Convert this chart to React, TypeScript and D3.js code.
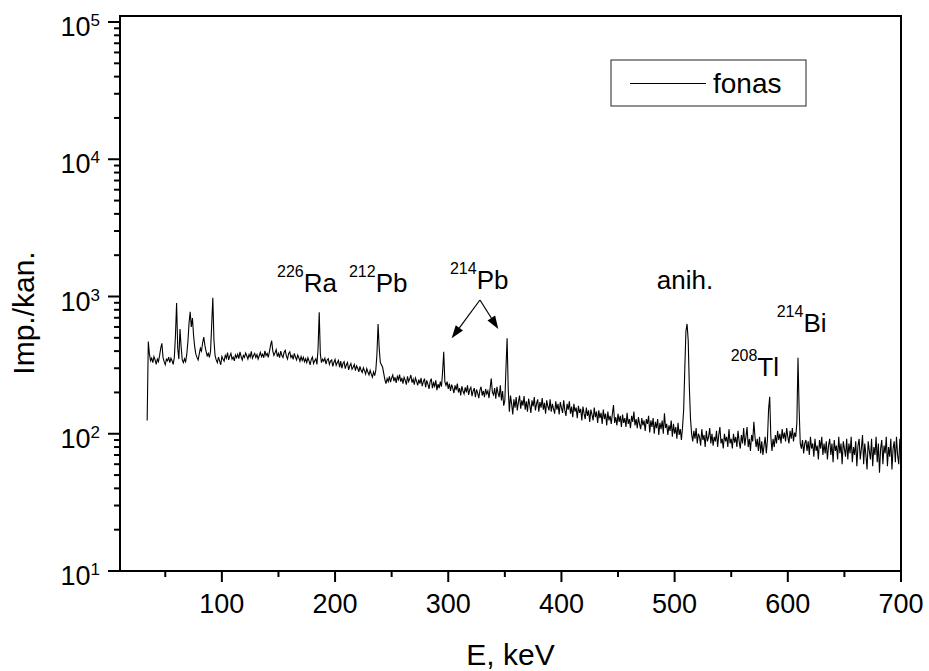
import React from 'react';
import * as d3 from 'd3';

// Spectrum: counts per channel, one value per keV starting at 34 keV
const E_START = 34;
const E_STEP = 1;
const counts: number[] = [
  // 34-53
  125, 470, 380, 340, 355, 330, 365, 345, 320, 350, 335, 372, 420, 456, 360, 335, 318, 350, 340, 362,
  // 54-73
  330, 355, 340, 320, 360, 520, 897, 420, 350, 580, 430, 345, 330, 352, 335, 380, 470, 640, 774, 600,
  // 74-93
  697, 520, 430, 380, 360, 345, 380, 420, 400, 460, 507, 440, 400, 370, 385, 360, 400, 620, 979, 480,
  // 94-113
  370, 345, 330, 362, 340, 318, 365, 350, 338, 372, 355, 390, 345, 368, 385, 350, 362, 340, 375, 358,
  // 114-133
  380, 352, 395, 365, 345, 372, 360, 388, 370, 350, 378, 362, 398, 355, 372, 385, 360, 378, 350, 370,
  // 134-153
  392, 365, 380, 358, 402, 372, 385, 360, 395, 440, 476, 400, 372, 390, 410, 365, 385, 358, 400, 372,
  // 154-173
  360, 392, 405, 368, 350, 385, 395, 360, 372, 348, 385, 362, 345, 375, 358, 338, 365, 342, 360, 335,
  // 174-193
  352, 330, 358, 340, 318, 348, 362, 325, 340, 352, 320, 420, 767, 380, 330, 350, 338, 355, 322, 345,
  // 194-213
  352, 320, 338, 345, 310, 332, 348, 315, 330, 342, 305, 338, 300, 325, 335, 298, 318, 330, 292, 312,
  // 214-233
  325, 295, 305, 320, 288, 312, 300, 282, 310, 290, 280, 302, 288, 272, 298, 282, 268, 290, 272, 258,
  // 234-253
  282, 265, 290, 380, 631, 420, 330, 318, 305, 275, 248, 232, 252, 240, 262, 238, 255, 268, 242, 258,
  // 254-273
  235, 262, 248, 270, 240, 255, 232, 258, 245, 228, 262, 240, 252, 268, 236, 250, 228, 255, 242, 225,
  // 274-293
  248, 232, 255, 222, 240, 252, 218, 245, 230, 212, 240, 252, 215, 235, 222, 245, 208, 230, 215, 240,
  // 294-313
  220, 280, 396, 240, 225, 240, 212, 232, 205, 228, 215, 198, 225, 208, 232, 200, 215, 190, 222, 205,
  // 314-333
  195, 218, 200, 225, 192, 210, 218, 188, 205, 215, 185, 210, 198, 182, 208, 220, 190, 205, 185, 212,
  // 334-353
  195, 205, 182, 215, 253, 200, 192, 215, 180, 220, 198, 185, 225, 175, 205, 160, 175, 300, 496, 210,
  // 354-373
  145, 190, 165, 138, 178, 155, 185, 148, 170, 190, 152, 175, 160, 188, 150, 172, 145, 180, 162, 142,
  // 374-393
  175, 158, 185, 148, 165, 178, 145, 170, 155, 182, 150, 168, 140, 175, 158, 148, 178, 145, 165, 152,
  // 394-413
  140, 172, 150, 165, 138, 170, 155, 142, 175, 148, 135, 165, 150, 172, 140, 158, 132, 165, 145, 155,
  // 414-433
  130, 160, 142, 152, 125, 158, 140, 128, 155, 135, 148, 122, 150, 138, 125, 155, 132, 145, 120, 148,
  // 434-453
  130, 142, 118, 150, 128, 140, 115, 145, 125, 135, 118, 140, 162, 120, 132, 115, 140, 122, 135, 112,
  // 454-473
  138, 120, 130, 112, 142, 118, 128, 110, 135, 122, 145, 115, 128, 110, 132, 118, 108, 130, 115, 125,
  // 474-493
  105, 128, 118, 135, 102, 125, 112, 130, 100, 122, 110, 128, 98, 120, 108, 125, 100, 141, 110, 118,
  // 494-513
  98, 115, 105, 125, 95, 118, 100, 112, 92, 120, 98, 108, 90, 112, 150, 300, 560, 631, 480, 220,
  // 514-533
  130, 100, 88, 105, 92, 110, 85, 100, 95, 82, 108, 90, 98, 80, 105, 88, 95, 110, 85, 100,
  // 534-553
  82, 95, 88, 105, 80, 98, 112, 85, 92, 78, 100, 88, 95, 80, 108, 85, 92, 78, 100, 86,
  // 554-573
  95, 80, 105, 88, 78, 98, 85, 110, 82, 95, 112, 80, 92, 75, 98, 88, 122, 95, 80, 92,
  // 574-593
  75, 95, 72, 88, 70, 82, 95, 72, 90, 150, 186, 95, 75, 92, 80, 98, 85, 105, 90, 100,
  // 594-613
  85, 108, 92, 102, 88, 110, 95, 85, 105, 92, 110, 88, 102, 95, 120, 358, 150, 85, 78, 90,
  // 614-633
  72, 85, 90, 75, 88, 70, 95, 78, 85, 68, 92, 75, 82, 65, 90, 78, 95, 70, 85, 72,
  // 634-653
  88, 65, 82, 92, 70, 85, 62, 90, 75, 82, 65, 95, 72, 85, 60, 88, 78, 68, 92, 65,
  // 654-673
  85, 72, 95, 62, 80, 70, 88, 58, 82, 92, 65, 78, 98, 60, 85, 70, 55, 88, 75, 65,
  // 674-693
  92, 58, 80, 70, 95, 62, 85, 52, 78, 90, 60, 82, 72, 95, 58, 80, 68, 92, 55, 78,
  // 694-700
  88, 62, 95, 70, 60, 92, 75,
];

const xMajorTicks = [100, 200, 300, 400, 500, 600, 700];
const xMinorTicks = [50, 150, 250, 350, 450, 550, 650];
const yExponents = [1, 2, 3, 4, 5];
const yMinorFactors = [2, 3, 4, 5, 6, 7, 8, 9];

const labelIsotopes = ['226', '212', '214', '', '214', '208'];
const labelNames = ['Ra', 'Pb', 'Pb', 'anih.', 'Bi', 'Tl'];
const labelEnergy = [148.7, 212.3, 301.5, 484.2, 590.2, 549.5];
const labelCounts = [1079, 1079, 1129, 1129, 554, 265];

const arrowFrom: [number, number][] = [[328, 943], [328, 943]];
const arrowTo: [number, number][] = [[303, 496], [344.2, 580]];

const legendLabel = 'fonas';
const xTitle = 'E, keV';
const yTitle = 'Imp./kan.';

const W = 929;
const H = 671;
const FONT = '"Liberation Sans", Arial, sans-serif';

export default function App() {
  const x = d3.scaleLinear().domain([10, 700]).range([120, 901]);
  const y = d3.scaleLog().domain([10, 1.106e5]).range([571, 16]);

  const data = counts.map((c, i) => [E_START + i * E_STEP, c] as [number, number]);
  const line = d3
    .line<[number, number]>()
    .x((d) => x(d[0]))
    .y((d) => y(d[1]));

  const [x0, x1] = x.range();
  const [yb, yt] = y.range();

  const yMinor: number[] = [];
  for (let k = 1; k < 5; k++) for (const f of yMinorFactors) yMinor.push(f * Math.pow(10, k));

  const arrowHead = (from: [number, number], to: [number, number]) => {
    const fx = x(from[0]);
    const fy = y(from[1]);
    const tx = x(to[0]);
    const ty = y(to[1]);
    const dx = tx - fx;
    const dy = ty - fy;
    const len = Math.hypot(dx, dy);
    const ux = dx / len;
    const uy = dy / len;
    const L = 13;
    const hw = 4.5;
    const bx = tx - ux * L;
    const by = ty - uy * L;
    const p = [
      [tx, ty],
      [bx - uy * hw, by + ux * hw],
      [bx + uy * hw, by - ux * hw],
    ];
    return { line: [fx, fy, bx, by], poly: p.map((q) => q.join(',')).join(' ') };
  };

  return (
    <svg
      width={W}
      height={H}
      style={{ position: 'absolute', left: 0, top: 0, background: '#fff' }}
      fontFamily={FONT}
    >
      <rect x={0} y={0} width={W} height={H} fill="#fff" />
      {/* spectrum */}
      <path d={line(data) || ''} fill="none" stroke="#000" strokeWidth={1.1} strokeLinejoin="miter" />

      {/* frame */}
      <rect x={x0} y={yt} width={x1 - x0} height={yb - yt} fill="none" stroke="#000" strokeWidth={2} />

      {/* x ticks */}
      {xMajorTicks.map((t) => (
        <g key={'xm' + t}>
          <line x1={x(t)} x2={x(t)} y1={yb} y2={yb + 11} stroke="#000" strokeWidth={2} />
          <text x={x(t)} y={613} fontSize={27} textAnchor="middle">
            {t}
          </text>
        </g>
      ))}
      {xMinorTicks.map((t) => (
        <line key={'xn' + t} x1={x(t)} x2={x(t)} y1={yb} y2={yb + 6} stroke="#000" strokeWidth={2} />
      ))}

      {/* y ticks */}
      {yExponents.map((e) => {
        const v = Math.pow(10, e);
        const py = y(v);
        return (
          <g key={'ym' + e}>
            <line x1={x0 - 12} x2={x0} y1={py} y2={py} stroke="#000" strokeWidth={2} />
            <text x={100} y={py + 14} fontSize={27} textAnchor="end">
              10
              <tspan fontSize={17} dy={-10}>
                {e}
              </tspan>
            </text>
          </g>
        );
      })}
      {yMinor.map((v) => (
        <line key={'yn' + v} x1={x0 - 6} x2={x0} y1={y(v)} y2={y(v)} stroke="#000" strokeWidth={2} />
      ))}

      {/* axis titles */}
      <text x={(x0 + x1) / 2} y={665} fontSize={30} textAnchor="middle">
        {xTitle}
      </text>
      <text transform={`translate(34,313) rotate(-90)`} fontSize={30} textAnchor="middle">
        {yTitle}
      </text>

      {/* legend */}
      <rect x={611} y={60} width={195} height={46} fill="#fff" stroke="#222" strokeWidth={1} />
      <line x1={630} x2={706} y1={83.5} y2={83.5} stroke="#000" strokeWidth={1} />
      <text x={713} y={93} fontSize={28}>
        {legendLabel}
      </text>

      {/* annotations */}
      {labelNames.map((n, i) => (
        <text key={'lab' + i} x={x(labelEnergy[i])} y={y(labelCounts[i])} fontSize={26}>
          {labelIsotopes[i] ? (
            <>
              <tspan fontSize={16} dy={-15}>
                {labelIsotopes[i]}
              </tspan>
              <tspan dy={15}>{n}</tspan>
            </>
          ) : (
            n
          )}
        </text>
      ))}

      {arrowFrom.map((f, i) => {
        const a = arrowHead(f, arrowTo[i]);
        return (
          <g key={'arr' + i}>
            <line x1={a.line[0]} y1={a.line[1]} x2={a.line[2]} y2={a.line[3]} stroke="#000" strokeWidth={1.2} />
            <polygon points={a.poly} fill="#000" />
          </g>
        );
      })}
    </svg>
  );
}
